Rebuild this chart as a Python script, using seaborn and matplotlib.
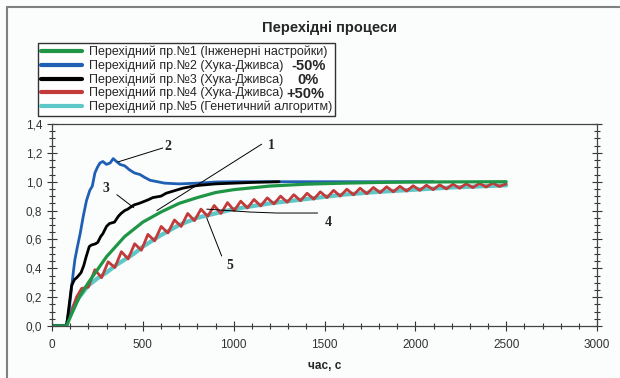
import matplotlib
matplotlib.use("Agg")
import matplotlib.pyplot as plt
import seaborn as sns
from matplotlib.lines import Line2D
from matplotlib.ticker import MultipleLocator, FuncFormatter

# Перехідні процеси: час (с) і вихід системи
t_green = [0, 80, 100, 125, 150, 175, 200, 250, 300, 350, 400, 450, 500, 600, 700,
           800, 900, 1000, 1200, 1400, 1600, 1800, 2000, 2500]
y_green = [0, 0, 0.06, 0.13, 0.2, 0.25, 0.3, 0.39, 0.48, 0.55, 0.62, 0.67, 0.72, 0.79,
           0.85, 0.89, 0.925, 0.945, 0.97, 0.983, 0.99, 0.995, 0.998, 1.0]

t_blue = [0, 80, 95, 108, 118, 126, 140, 155, 172, 190, 208, 222, 236, 250, 264, 280,
          300, 320, 337, 355, 374, 400, 429, 455, 484, 510, 540, 580, 620, 700, 800,
          900, 1000, 2100]
y_blue = [0, 0, 0.12, 0.27, 0.38, 0.46, 0.55, 0.64, 0.76, 0.87, 0.94, 0.97, 1.06, 1.10,
          1.13, 1.14, 1.12, 1.13, 1.16, 1.14, 1.12, 1.11, 1.08, 1.06, 1.05, 1.03, 1.01,
          1.0, 0.99, 0.985, 0.99, 0.998, 1.0, 1.0]

t_black = [0, 80, 95, 108, 123, 140, 160, 175, 188, 205, 215, 240, 252, 268, 280, 300,
           316, 344, 365, 380, 400, 417, 440, 454, 480, 500, 530, 555, 600, 628, 680,
           720, 780, 811, 900, 1000, 1100, 1250]
y_black = [0, 0, 0.15, 0.28, 0.32, 0.34, 0.37, 0.42, 0.48, 0.55, 0.56, 0.57, 0.58, 0.62,
           0.64, 0.69, 0.71, 0.72, 0.76, 0.78, 0.80, 0.81, 0.83, 0.84, 0.85, 0.86, 0.875,
           0.89, 0.90, 0.92, 0.94, 0.955, 0.97, 0.975, 0.985, 0.99, 0.995, 1.0]

t_red = [0, 80, 110, 135, 163, 200, 236, 273, 309, 346, 382, 419, 455, 492, 528, 565,
         601, 638, 674, 711, 747, 784, 820, 857, 893, 930, 966, 1003, 1039, 1076, 1112,
         1149, 1185, 1222, 1258, 1295, 1331, 1368, 1404, 1441, 1477, 1514, 1550, 1587,
         1623, 1660, 1696, 1733, 1769, 1806, 1842, 1879, 1915, 1952, 1988, 2025, 2061,
         2098, 2134, 2171, 2207, 2244, 2280, 2317, 2353, 2390, 2426, 2463, 2500]
y_red = [0, 0, 0.11, 0.2, 0.26, 0.27, 0.39, 0.335, 0.445, 0.405, 0.515, 0.465, 0.57,
         0.525, 0.635, 0.59, 0.69, 0.645, 0.735, 0.69, 0.78, 0.73, 0.81, 0.76, 0.835,
         0.78, 0.855, 0.80, 0.865, 0.818, 0.877, 0.832, 0.888, 0.846, 0.9, 0.858, 0.91,
         0.868, 0.92, 0.879, 0.93, 0.89, 0.94, 0.9, 0.948, 0.909, 0.955, 0.917,
         0.96, 0.924, 0.965, 0.93, 0.968, 0.935, 0.972, 0.94, 0.976, 0.945, 0.979,
         0.95, 0.983, 0.955, 0.986, 0.959, 0.989, 0.963, 0.991, 0.967, 0.985]

t_cyan = [0, 80, 100, 150, 200, 250, 300, 350, 400, 450, 500, 600, 700, 800, 900, 1000,
          1200, 1400, 1600, 1800, 2000, 2200, 2400, 2500]
y_cyan = [0, 0, 0.1, 0.2, 0.28, 0.33, 0.37, 0.42, 0.46, 0.50, 0.55, 0.63, 0.70, 0.75,
          0.78, 0.81, 0.85, 0.88, 0.91, 0.93, 0.945, 0.96, 0.97, 0.975]

labels = ["Перехідний пр.№1 (Інженерні настройки)",
          "Перехідний пр.№2 (Хука-Дживса)",
          "Перехідний пр.№3 (Хука-Дживса)",
          "Перехідний пр.№4 (Хука-Дживса)",
          "Перехідний пр.№5 (Генетичний алгоритм)"]
percents = ["-50%", "0%", "+50%"]
colors = ["#1e9646", "#1f5fb4", "#000000", "#c23a3a", "#5ec8c8"]

sns.set_style("white")
plt.rcParams["font.family"] = ["Liberation Sans", "DejaVu Sans"]

bg = "#fbfcfc"
fig = plt.figure(figsize=(6.2, 3.78), dpi=100, facecolor=bg)
ax = fig.add_axes([52 / 620, 1 - 326 / 378, 545 / 620, 202 / 378], facecolor=bg)

sns.lineplot(x=t_cyan, y=y_cyan, color=colors[4], lw=3.0, ax=ax)
sns.lineplot(x=t_red, y=y_red, color=colors[3], lw=2.0, ax=ax)
sns.lineplot(x=t_blue, y=y_blue, color=colors[1], lw=2.0, ax=ax)
sns.lineplot(x=t_black, y=y_black, color=colors[2], lw=2.0, ax=ax)
sns.lineplot(x=t_green, y=y_green, color=colors[0], lw=2.3, ax=ax)

ax.set_xlim(0, 3000)
ax.set_ylim(0, 1.4)
ax.xaxis.set_major_locator(MultipleLocator(500))
ax.xaxis.set_minor_locator(MultipleLocator(100))
ax.yaxis.set_major_locator(MultipleLocator(0.2))
ax.yaxis.set_minor_locator(MultipleLocator(0.05))
ax.yaxis.set_major_formatter(FuncFormatter(lambda v, p: f"{v:.1f}".replace(".", ",")))
ax.tick_params(which="major", direction="inout", length=7, width=0.8, color="#333333",
               labelsize=8.5, labelcolor="#333333", right=True, left=True, bottom=True)
ax.tick_params(which="minor", direction="inout", length=4, width=0.8, color="#333333",
               right=True, left=True, bottom=True)
ax.tick_params(axis="x", pad=6)
for s in ax.spines.values():
    s.set_color("#444444")
    s.set_linewidth(0.9)
ax.set_xlabel("час, с", fontsize=8.5, fontweight="bold", labelpad=6)
ax.set_ylabel("")

# підписи кривих
kw = dict(color="black", lw=0.7)
ax.plot([363, 610], [1.137, 1.234], **kw)
ax.plot([577, 1154], [0.80, 1.26], **kw)
ax.plot([450, 357], [0.82, 0.91], **kw)
ax.plot([852, 1088, 1236, 1462], [0.81, 0.79, 0.783, 0.783], **kw)
ax.plot([852, 934], [0.748, 0.485], **kw)
nkw = dict(fontsize=10, fontweight="bold", family="Liberation Serif", ha="center", va="center")
ax.text(640, 1.245, "2", **nkw)
ax.text(1210, 1.25, "1", **nkw)
ax.text(297, 0.955, "3", **nkw)
ax.text(1522, 0.72, "4", **nkw)
ax.text(978, 0.416, "5", **nkw)

fig.text(330 / 620, 1 - 28 / 378, "Перехідні процеси", fontsize=10.5, fontweight="bold",
         ha="center", va="center")

handles = [Line2D([], [], color=c, lw=3) for c in colors]
leg = fig.legend(handles, labels, loc="upper left", bbox_to_anchor=(38 / 620, 1 - 43 / 378),
                 fontsize=9, frameon=True, fancybox=False, handlelength=3.3,
                 handletextpad=0.6, labelspacing=0.1, borderpad=0.2, borderaxespad=0,
                 handleheight=0.5)
leg.get_frame().set_edgecolor("black")
leg.get_frame().set_linewidth(1.0)
leg.get_frame().set_facecolor("white")

pkw = dict(fontsize=10.5, fontweight="bold", va="center", zorder=20)
fig.text(291 / 620, 1 - 66 / 378, percents[0], **pkw)
fig.text(297 / 620, 1 - 80 / 378, percents[1], **pkw)
fig.text(286 / 620, 1 - 94 / 378, percents[2], **pkw)

# рамка
fig.add_artist(Line2D([7 / 620, 1], [1 - 7 / 378, 1 - 7 / 378], color="#808080", lw=1.5,
                      transform=fig.transFigure))
fig.add_artist(Line2D([7 / 620, 7 / 620], [0, 1 - 7 / 378], color="#808080", lw=1.5,
                      transform=fig.transFigure))

fig.savefig("out.png", dpi=100, facecolor=bg)
